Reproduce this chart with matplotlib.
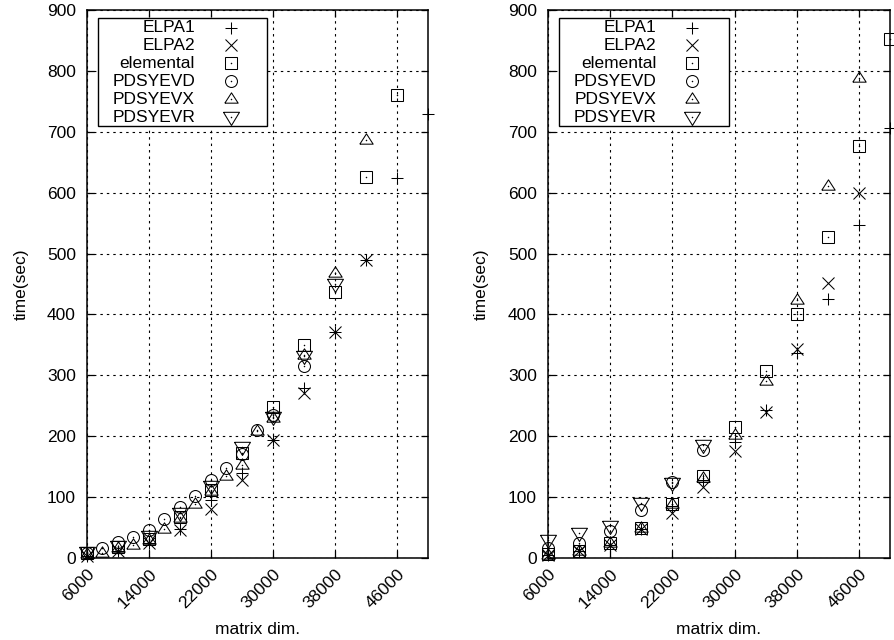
import numpy as np
import matplotlib
matplotlib.use("Agg")
import matplotlib.pyplot as plt
from matplotlib.patches import Rectangle

plt.rcParams['font.family'] = ['Liberation Sans', 'DejaVu Sans']
plt.rcParams['font.size'] = 12.5

names = ["ELPA1", "ELPA2", "elemental", "PDSYEVD", "PDSYEVX", "PDSYEVR"]

# left panel (time in sec)
l_x4 = [6000, 10000, 14000, 18000, 22000, 26000, 30000, 34000, 38000, 42000, 46000, 50000]
l_elpa1 = [4, 11, 24, 48, 95, 140, 193, 279, 371, 489, 624, 729]
l_elpa2 = [4, 12, 24, 46, 80, 128, 193, 271, 371, 489]
l_elem = [8, 18, 32, 68, 112, 173, 248, 349, 437, 625, 760]
l_x2 = [6000, 8000, 10000, 12000, 14000, 16000, 18000, 20000, 22000, 24000,
        26000, 28000, 30000, 34000, 38000, 42000]
l_evd = [9, 17, 27, 34, 46, 64, 84, 102, 128, 148, 171, 210, 235, 315]
l_evx = [7, 9, 17, 21, 30, 47, 66, 89, 110, 135, 153, 208, 230, 333, 468, 686]
l_evr = [10, 20, 36, 74, 118, 182, 232, 331, 450]

# right panel
r_x = [6000, 10000, 14000, 18000, 22000, 26000, 30000, 34000, 38000, 42000, 46000, 50000]
r_elpa1 = [5, 12, 22, 48, 86, 128, 191, 243, 337, 426, 547, 707]
r_elpa2 = [5, 12, 22, 48, 74, 116, 176, 240, 344, 451, 599]
r_elem = [6, 12, 24, 49, 88, 134, 215, 307, 400, 527, 677, 852]
r_evd = [16, 24, 44, 79, 125, 178]
r_evx = [5, 12, 24, 49, 88, 132, 202, 291, 423, 611, 788]
r_evr = [30, 41, 52, 90, 123, 186]

left = [(l_x4, l_elpa1), (l_x4, l_elpa2), (l_x4, l_elem),
        (l_x2, l_evd), (l_x2, l_evx), (l_x4, l_evr)]
right = [(r_x, r_elpa1), (r_x, r_elpa2), (r_x, r_elem),
         (r_x, r_evd), (r_x, r_evx), (r_x, r_evr)]

# gnuplot-like point types
tri_up = [(-1, -0.55), (1, -0.55), (0, 1.0), (-1, -0.55)]
tri_dn = [(-1, 0.65), (1, 0.65), (0, -1.0), (-1, 0.65)]
styles = [
    dict(marker='+', ms=8.8, dot=False),
    dict(marker='x', ms=8.4, dot=False),
    dict(marker='s', ms=8.2, dot=True),
    dict(marker='o', ms=8.6, dot=True),
    dict(marker=tri_up, ms=9.6, dot=True),
    dict(marker=tri_dn, ms=11.5, dot=True),
]


def draw_point(ax, x, y, st, **kw):
    ax.plot(x, y, linestyle='none', marker=st['marker'], ms=st['ms'],
            mfc='none', mec='black', mew=0.75, clip_on=False, **kw)
    if st['dot']:
        ax.plot(x, y, linestyle='none', marker='o', ms=1.1, mfc='black',
                mec='black', mew=0, clip_on=False, **kw)


fig = plt.figure(figsize=(8.95, 6.4), dpi=100)
axes = [fig.add_axes([87 / 895, 82 / 640, 341 / 895, 548 / 640]),
        fig.add_axes([548 / 895, 82 / 640, 342 / 895, 548 / 640])]

for ax, data in zip(axes, [left, right]):
    for (xs, ys), st in zip(data, styles):
        draw_point(ax, xs[:len(ys)], ys, st)

    ax.set_xlim(6000, 50000)
    ax.set_ylim(0, 900)
    ax.set_xticks(np.arange(6000, 50000, 8000))
    ax.set_yticks(np.arange(0, 901, 100))
    ax.grid(True, color='black', linestyle=(0, (2.2, 3.6)), linewidth=0.8)
    ax.set_axisbelow(True)
    ax.tick_params(direction='in', length=5, width=0.9, top=True, right=True,
                   colors='black', labelsize=12.5)
    ax.tick_params(axis='y', pad=8)
    ax.tick_params(axis='x', pad=6)
    for lab in ax.get_xticklabels():
        lab.set_rotation(45)
        lab.set_ha('right')
        lab.set_va('top')
        lab.set_rotation_mode('anchor')
    for sp in ax.spines.values():
        sp.set_linewidth(1.1)
    ax.set_ylabel("time(sec)")
    ax.set_xlabel("matrix dim.")
    ax.yaxis.set_label_coords(-0.172, 0.5)
    ax.xaxis.set_label_coords(0.5, -0.117)

    # key box, text right aligned with sample to the right
    ax.add_patch(Rectangle((0.032, 0.788), 0.496, 0.197, transform=ax.transAxes,
                           facecolor='white', edgecolor='black', lw=1.0,
                           zorder=5, clip_on=False))
    y0, dy = 0.968, 0.0327
    for i, (nm, st) in enumerate(zip(names, styles)):
        yy = y0 - i * dy
        ax.text(0.317, yy, nm, transform=ax.transAxes, ha='right',
                va='center', zorder=6)
        draw_point(ax, [0.422], [yy], st, transform=ax.transAxes, zorder=6)

fig.savefig("out.png", dpi=100)
